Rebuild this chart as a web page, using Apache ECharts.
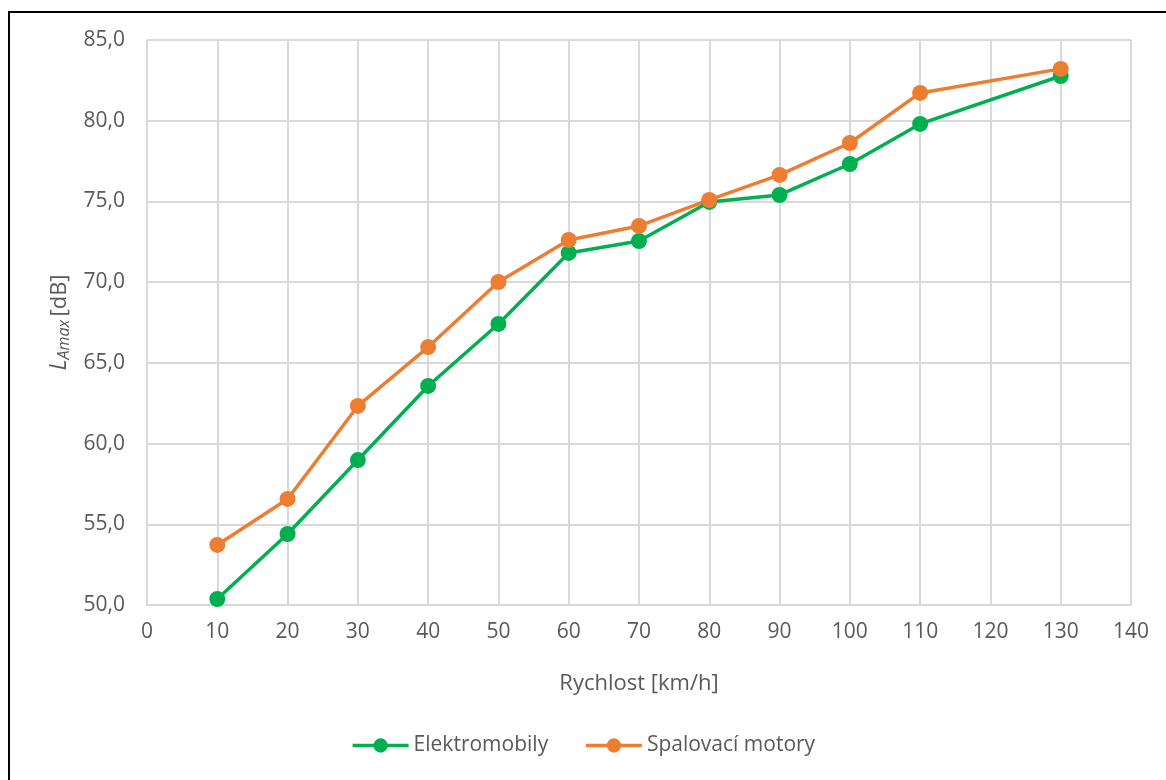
<html>
<head>
<meta charset="utf-8">
<script src="https://cdn.jsdelivr.net/npm/echarts@6/dist/echarts.min.js"></script>
</head>
<body>
<style>
    html, body { margin: 0; width: 100%; height: 100%; background: #fff; }
    #frame { position: absolute; left: 8px; top: 11px; width: 1170px; height: 780px; border: 2px solid #000; box-sizing: border-box; }
    #main { position: absolute; left: 0; top: 0; width: 1166px; height: 780px; }
</style>
<div id="frame"></div>
<div id="main"></div>
<script>
var speeds = [10, 20, 30, 40, 50, 60, 70, 80, 90, 100, 110, 130];
var elektro = [50.37, 54.4, 58.98, 63.57, 67.41, 71.81, 72.55, 74.97, 75.4, 77.32, 79.8, 82.77];
var spalovaci = [53.72, 56.57, 62.33, 65.98, 70.01, 72.61, 73.48, 75.09, 76.64, 78.62, 81.72, 83.21];
var seriesNames = ['Elektromobily', 'Spalovací motory'];
var colors = ['#00B050', '#ED7D31'];

function pairs(xs, ys) {
    var out = [];
    for (var i = 0; i < xs.length; i++) out.push([xs[i], ys[i]]);
    return out;
}

var font = 'Open Sans';
var txt = '#595959';
var chart = echarts.init(document.getElementById('main'));
var option = {
    animation: false,
    grid: { left: 147, right: 35, top: 40, bottom: 175 },
    legend: {
        bottom: 19,
        left: 'center',
        itemWidth: 56,
        itemHeight: 18,
        itemGap: 36,
        lineStyle: { width: 3.5 },
        textStyle: { fontFamily: font, fontSize: 21, color: txt },
        data: seriesNames
    },
    xAxis: {
        type: 'value',
        min: 0, max: 140, interval: 10,
        name: 'Rychlost [km/h]',
        nameLocation: 'middle',
        nameGap: 68,
        nameTextStyle: { fontFamily: font, fontSize: 22, color: txt },
        axisLine: { lineStyle: { color: '#d9d9d9', width: 2 } },
        axisTick: { show: false },
        axisLabel: { fontFamily: font, fontSize: 21, color: txt, margin: 17 },
        splitLine: { show: true, lineStyle: { color: '#d9d9d9', width: 2 } }
    },
    yAxis: {
        type: 'value',
        min: 50, max: 85, interval: 5,
        name: '{i|L}{s|Amax} {n|[dB]}',
        nameLocation: 'middle',
        nameRotate: 90,
        nameGap: 66,
        nameTextStyle: {
            color: txt,
            rich: {
                i: { fontFamily: font, fontSize: 23, fontStyle: 'italic', color: txt },
                s: { fontFamily: font, fontSize: 16, fontStyle: 'italic', color: txt, padding: [10, 0, 0, 0] },
                n: { fontFamily: font, fontSize: 22, color: txt }
            }
        },
        axisLine: { show: false },
        axisTick: { show: false },
        axisLabel: {
            fontFamily: font, fontSize: 21, color: txt, margin: 22,
            formatter: function (v) { return v.toFixed(1).replace('.', ','); }
        },
        splitLine: { show: true, lineStyle: { color: '#d9d9d9', width: 2 } }
    },
    series: [
        {
            name: seriesNames[0], type: 'line',
            data: pairs(speeds, elektro),
            symbol: 'circle', symbolSize: 16,
            lineStyle: { width: 3.5, color: colors[0] },
            itemStyle: { color: colors[0] }
        },
        {
            name: seriesNames[1], type: 'line',
            data: pairs(speeds, spalovaci),
            symbol: 'circle', symbolSize: 16,
            lineStyle: { width: 3.5, color: colors[1] },
            itemStyle: { color: colors[1] }
        }
    ]
};
chart.setOption(option);
</script>
</body>
</html>
